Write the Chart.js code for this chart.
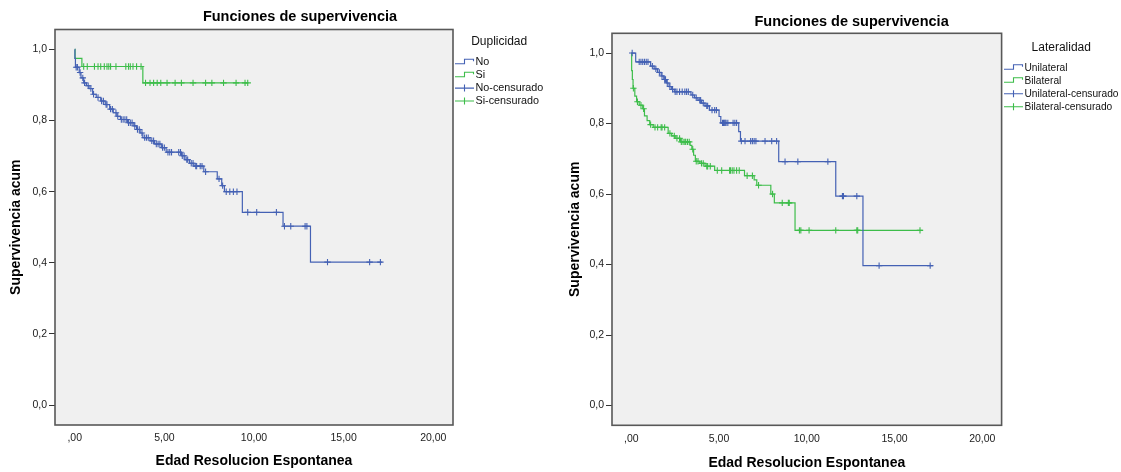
<!DOCTYPE html>
<html lang="es">
<head>
<meta charset="utf-8">
<title>Funciones de supervivencia</title>
<script src="https://cdn.jsdelivr.net/npm/chart.js@4.4.1/dist/chart.umd.min.js"></script>
<style>
  html, body { margin: 0; padding: 0; background: #fff; }
  canvas { position: absolute; top: 0; }
  #dupChart { left: 0; }
  #latChart { left: 560px; }
</style>
</head>
<body>
<canvas id="dupChart" width="560" height="472"></canvas>
<canvas id="latChart" width="561" height="472"></canvas>
<script>
// Ejes comunes
const xTicks = [0, 5, 10, 15, 20];
const xTickLabels = [',00', '5,00', '10,00', '15,00', '20,00'];
const yTicks = [0, 0.2, 0.4, 0.6, 0.8, 1.0];
const yTickLabels = ['0,0', '0,2', '0,4', '0,6', '0,8', '1,0'];

// Duplicidad = No (tiempos de evento / supervivencia acumulada)
const noTimes = [0.01, 0.04, 0.25, 0.35, 0.5, 0.65, 0.8, 1.0, 1.2, 1.45, 1.7, 1.95, 2.15, 2.35, 2.55, 2.95, 3.3, 3.45, 3.65, 3.8, 4.2, 4.45, 4.85, 5.1, 5.95, 6.15, 6.4, 6.65, 7.2, 7.95, 8.2, 8.35, 9.35, 11.62, 13.15];
const noSurv = [0.975, 0.95, 0.935, 0.92, 0.906, 0.898, 0.89, 0.874, 0.865, 0.855, 0.845, 0.832, 0.822, 0.812, 0.803, 0.794, 0.785, 0.775, 0.765, 0.752, 0.743, 0.734, 0.724, 0.711, 0.701, 0.69, 0.68, 0.672, 0.656, 0.636, 0.617, 0.6, 0.542, 0.503, 0.402];
const noEnd = 17.15;
const noCensored = [0.08, 0.15, 0.3, 0.45, 0.55, 0.75, 0.9, 1.05, 1.3, 1.5, 1.6, 1.75, 1.8, 2.0, 2.1, 2.3, 2.4, 2.6, 2.7, 2.8, 2.9, 3.0, 3.1, 3.2, 3.35, 3.5, 3.6, 3.75, 3.9, 4.0, 4.1, 4.3, 4.4, 4.55, 4.65, 4.75, 4.9, 5.0, 5.2, 5.3, 5.4, 5.8, 5.9, 6.0, 6.1, 6.25, 6.3, 6.5, 6.6, 6.75, 6.8, 7.0, 7.1, 7.3, 8.05, 8.25, 8.45, 8.65, 8.85, 9.05, 9.65, 10.15, 11.25, 11.7, 12.05, 12.85, 12.95, 14.1, 16.45, 17.05];

// Duplicidad = Si
const siTimes = [0.02, 0.4, 3.8];
const siSurv = [0.975, 0.952, 0.906];
const siEnd = 9.68;
const siCensored = [0.5, 0.7, 1.1, 1.3, 1.45, 1.65, 1.8, 1.9, 2.0, 2.3, 2.85, 3.0, 3.1, 3.25, 3.45, 3.7, 3.95, 4.2, 4.4, 4.6, 4.8, 5.15, 5.6, 5.95, 6.6, 7.3, 7.65, 8.3, 9.0, 9.5, 9.65];

// Lateralidad = Unilateral
const uniTimes = [0.25, 1.1, 1.3, 1.5, 1.7, 1.85, 2.0, 2.15, 2.3, 2.45, 3.4, 3.6, 3.8, 4.0, 4.2, 4.45, 5.0, 5.1, 6.12, 6.22, 8.4, 11.65, 13.2];
const uniSurv = [0.975, 0.963, 0.955, 0.945, 0.935, 0.925, 0.915, 0.905, 0.897, 0.89, 0.881, 0.873, 0.866, 0.858, 0.85, 0.838, 0.82, 0.802, 0.777, 0.75, 0.692, 0.594, 0.397];
const uniEnd = 17.2;
const uniCensored = [0.05, 0.45, 0.55, 0.65, 0.75, 0.85, 0.95, 1.2, 1.4, 1.6, 1.75, 1.9, 1.95, 2.05, 2.2, 2.35, 2.5, 2.6, 2.75, 2.9, 3.05, 3.15, 3.25, 3.5, 3.7, 3.9, 3.95, 4.1, 4.3, 4.35, 4.6, 4.75, 4.85, 5.2, 5.25, 5.3, 5.35, 5.4, 5.5, 5.8, 5.9, 6.0, 6.27, 6.48, 6.8, 6.9, 7.0, 7.1, 7.62, 8.0, 8.28, 8.76, 9.49, 11.2, 12.03, 12.09, 12.85, 14.12, 17.03];

// Lateralidad = Bilateral
const biTimes = [0.02, 0.06, 0.1, 0.2, 0.3, 0.45, 0.65, 0.75, 0.9, 1.05, 1.25, 2.1, 2.3, 2.5, 2.8, 3.35, 3.45, 3.55, 3.65, 3.9, 4.2, 4.75, 6.45, 7.0, 7.15, 7.95, 8.15, 9.33];
const biSurv = [0.95, 0.925, 0.9, 0.878, 0.862, 0.852, 0.842, 0.822, 0.808, 0.797, 0.789, 0.772, 0.765, 0.758, 0.748, 0.738, 0.727, 0.71, 0.693, 0.687, 0.679, 0.667, 0.652, 0.64, 0.625, 0.6, 0.575, 0.497];
const biEnd = 16.6;
const biCensored = [0.12, 0.35, 0.55, 0.7, 1.1, 1.35, 1.5, 1.7, 1.75, 1.9, 2.2, 2.45, 2.6, 2.75, 2.85, 2.95, 3.05, 3.1, 3.2, 3.3, 3.5, 3.7, 3.8, 4.0, 4.1, 4.3, 4.35, 4.5, 4.9, 5.15, 5.6, 5.65, 5.75, 5.85, 6.0, 6.15, 6.6, 6.9, 7.25, 8.05, 8.6, 8.95, 9.0, 9.58, 9.66, 10.13, 11.65, 12.85, 12.9, 16.45];

const FONT = "'Liberation Sans', Arial, sans-serif";
const BLUE = '#4461b4';
const GREEN = '#3dbd4a';
Chart.defaults.font.family = FONT;
Chart.defaults.color = '#222';

// curva escalonada de Kaplan-Meier: arranca en (0, 1) y termina en el último seguimiento
function stepPoints(times, surv, end) {
  const pts = [{ x: 0, y: 1 }];
  times.forEach((t, i) => pts.push({ x: t, y: surv[i] }));
  pts.push({ x: end, y: surv[surv.length - 1] });
  return pts;
}

function survAt(times, surv, t) {
  let s = 1;
  for (let i = 0; i < times.length; i++) {
    if (times[i] <= t) s = surv[i];
  }
  return s;
}

function buildDatasets(series) {
  const lines = series.map(s => ({
    label: s.label,
    data: stepPoints(s.times, s.surv, s.end),
    showLine: true,
    stepped: true,
    borderColor: s.color,
    borderWidth: 1.2,
    pointRadius: 0,
    order: 1
  }));
  const marks = series.map(s => ({
    label: s.label + '-censurado',
    data: s.censored.map(t => ({ x: t, y: survAt(s.times, s.surv, t) })),
    showLine: false,
    pointStyle: 'cross',
    pointRadius: 3.2,
    pointBorderWidth: 1.1,
    borderColor: s.color,
    pointBorderColor: s.color,
    order: 0
  }));
  return lines.concat(marks);
}

// fondo gris, marco, título y leyenda al estilo SPSS
const spssFrame = {
  id: 'spssFrame',
  beforeDraw(chart) {
    const { ctx, chartArea: a } = chart;
    ctx.save();
    ctx.fillStyle = '#f0f0f0';
    ctx.fillRect(a.left, a.top, a.right - a.left, a.bottom - a.top);
    ctx.restore();
  },
  afterDraw(chart, args, opts) {
    const { ctx, chartArea: a } = chart;
    ctx.save();
    ctx.strokeStyle = '#585858';
    ctx.lineWidth = 1.6;
    ctx.strokeRect(a.left, a.top, a.right - a.left, a.bottom - a.top);

    ctx.fillStyle = '#000';
    ctx.textAlign = 'center';
    ctx.textBaseline = 'middle';
    ctx.font = 'bold 14.5px ' + FONT;
    ctx.fillText(opts.title, opts.titleX, opts.titleY);

    // leyenda
    const lg = opts.legend;
    const textX = lg.x + 20.5;
    const itemFont = lg.fontSize + 'px ' + FONT;
    ctx.font = itemFont;
    let widest = 0;
    chart.data.datasets.forEach(d => { widest = Math.max(widest, ctx.measureText(d.label).width); });
    ctx.font = '12px ' + FONT;
    ctx.fillStyle = '#111';
    ctx.fillText(opts.legendTitle, (lg.x + textX + widest) / 2, lg.titleY);

    ctx.textAlign = 'left';
    ctx.font = itemFont;
    chart.data.datasets.forEach((d, i) => {
      const y = lg.firstY + i * lg.step;
      const x0 = lg.x;
      ctx.strokeStyle = d.borderColor;
      ctx.lineWidth = 1.1;
      ctx.beginPath();
      if (d.showLine) {
        ctx.moveTo(x0, y + 1.5);
        ctx.lineTo(x0 + 9.5, y + 1.5);
        ctx.lineTo(x0 + 9.5, y - 3);
        ctx.lineTo(x0 + 18.5, y - 3);
        ctx.lineTo(x0 + 18.5, y - 1);
      } else {
        ctx.moveTo(x0, y);
        ctx.lineTo(x0 + 19, y);
        ctx.moveTo(x0 + 9.5, y - 3.5);
        ctx.lineTo(x0 + 9.5, y + 3.5);
      }
      ctx.stroke();
      ctx.fillStyle = '#111';
      ctx.fillText(d.label, textX, y);
    });
    ctx.restore();
  }
};

function makeChart(id, series, lay) {
  return new Chart(document.getElementById(id), {
    type: 'scatter',
    data: { datasets: buildDatasets(series) },
    options: {
      responsive: false,
      animation: false,
      events: [],
      layout: { padding: { top: lay.top, right: lay.right, left: 0, bottom: 0 } },
      plugins: {
        legend: { display: false },
        tooltip: { enabled: false },
        spssFrame: lay.decor
      },
      scales: {
        x: {
          type: 'linear',
          min: -1.1,
          max: 21.1,
          afterBuildTicks: s => { s.ticks = xTicks.map(v => ({ value: v })); },
          afterFit: s => { s.height = lay.xHeight; },
          grid: { drawOnChartArea: false, drawTicks: false },
          border: { display: false },
          ticks: {
            padding: lay.xLabelPad,
            color: '#222',
            font: { size: 10.5 },
            maxRotation: 0,
            callback: (v, i) => xTickLabels[i]
          },
          title: {
            display: true,
            text: 'Edad Resolucion Espontanea',
            color: '#000',
            font: { size: 14, weight: 'bold' },
            padding: { top: 0, bottom: lay.xTitlePad }
          }
        },
        y: {
          type: 'linear',
          min: -0.056,
          max: 1.056,
          afterBuildTicks: s => { s.ticks = yTicks.map(v => ({ value: v })); },
          afterFit: s => { s.width = lay.yWidth; },
          grid: { drawOnChartArea: false, drawTicks: true, tickLength: 6, color: '#333', lineWidth: 1 },
          border: { display: false },
          ticks: {
            padding: 2,
            color: '#222',
            font: { size: 10.5 },
            callback: (v, i) => yTickLabels[i]
          },
          title: {
            display: true,
            text: 'Supervivencia acum',
            color: '#000',
            font: { size: 14, weight: 'bold' },
            padding: { top: lay.yTitlePad, bottom: 0 }
          }
        }
      }
    },
    plugins: [spssFrame]
  });
}

makeChart('dupChart', [
  { label: 'No', times: noTimes, surv: noSurv, end: noEnd, censored: noCensored, color: BLUE },
  { label: 'Si', times: siTimes, surv: siSurv, end: siEnd, censored: siCensored, color: GREEN }
], {
  top: 29.5, right: 107, yWidth: 55, xHeight: 47,
  xLabelPad: 7, xTitlePad: 2.6, yTitlePad: 7.6,
  decor: {
    title: 'Funciones de supervivencia', titleX: 300, titleY: 17,
    legendTitle: 'Duplicidad',
    legend: { x: 455, titleY: 42, firstY: 62.3, step: 12.9, fontSize: 10.8 }
  }
});

makeChart('latChart', [
  { label: 'Unilateral', times: uniTimes, surv: uniSurv, end: uniEnd, censored: uniCensored, color: BLUE },
  { label: 'Bilateral', times: biTimes, surv: biSurv, end: biEnd, censored: biCensored, color: GREEN }
], {
  top: 33.3, right: 119.4, yWidth: 52, xHeight: 46.7,
  xLabelPad: 8, xTitlePad: 0.6, yTitlePad: 6.6,
  decor: {
    title: 'Funciones de supervivencia', titleX: 291.6, titleY: 22,
    legendTitle: 'Lateralidad',
    legend: { x: 444, titleY: 47.7, firstY: 67.7, step: 13, fontSize: 10.2 }
  }
});
</script>
</body>
</html>
